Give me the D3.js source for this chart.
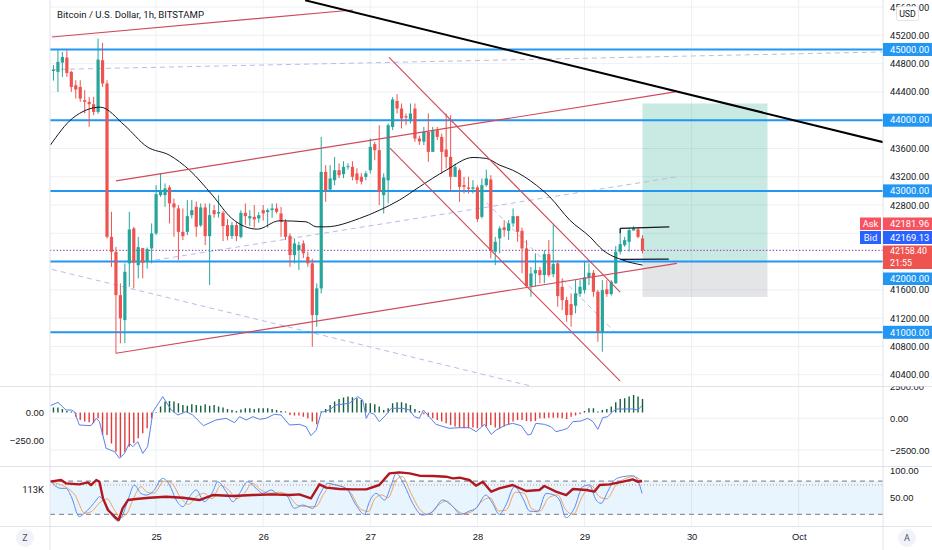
<!DOCTYPE html>
<html>
<head>
<meta charset="utf-8">
<script src="https://cdn.jsdelivr.net/npm/d3@7"></script>
<style>
  body { margin: 0; background: #fff; }
  svg { display: block; font-family: Roboto, "Noto Sans", sans-serif; }
</style>
</head>
<body>
<div id="chart"></div>
<script>
// ---- data ----
// hourly candles, first one is Sep 24 01:00 UTC
const opens = [44700,44683,44815,44886,44683,44495,44470,44283,44259,44226,44117,44848,44519,42350,42138,41526,41173,41975,42469,41950,
  42191,41993,42187,42399,42940,42940,43049,42823,42752,42421,42421,42657,42775,42513,42766,42360,42728,42680,42690,42516,
  42360,42516,42350,42690,42612,42633,42610,42728,42700,42728,42752,42681,42563,42365,42092,42163,42257,42068,41975,41244,
  41621,43269,43020,43151,43293,43237,43340,43340,43247,43200,43199,43293,43661,43576,42940,43150,43905,44273,44165,44056,
  44010,44165,43741,43695,43835,43552,43859,43764,43585,43481,43199,43293,43081,43049,43030,43050,42633,43081,43162,42139,
  42328,42484,42435,42540,42643,42435,42186,41654,41833,41880,41809,42106,41823,41975,41644,41456,41399,41375,41545,41597,
  41777,41842,41573,40994,41607,41541,41692,42139,42233,42280,42440,42455,42328];
const highs = [44780,44990,44965,44990,44700,44565,44565,44424,44330,44330,45155,45093,44565,42704,42209,41692,41975,42704,42492,42350,
  42191,42200,42540,43081,43247,43105,43080,42893,42800,42752,42870,42870,42850,42823,42823,42823,42800,42940,42720,42600,
  42560,42560,42728,42823,42728,42800,42700,42800,42750,42823,42823,42775,42600,42400,42328,42280,42300,42140,42040,41692,
  43764,43364,43364,43481,43387,43420,43390,43420,43320,43250,43280,43741,43693,43929,43247,43953,44325,44367,44236,44095,
  44236,44236,43780,43905,44095,43905,43905,43811,44095,44070,43387,43317,43199,43199,43152,43080,43176,43300,43222,42350,
  42500,42587,42587,42752,42643,42480,42304,41926,42116,41926,42163,42304,42526,42021,41763,41502,41550,41738,41738,41997,
  41975,41880,41600,41738,41738,41738,42219,42470,42350,42470,42500,42484,42375];
const lows = [44560,44400,44612,44612,44400,44306,44259,44095,43905,44070,44090,44470,42328,41926,40702,40844,40848,41644,41621,41763,
  41763,41900,41975,42375,42916,42775,42540,42350,42021,42304,42375,42610,42350,42492,42233,41668,42620,42620,42290,42300,
  42320,42290,42330,42520,42500,42480,42550,42580,42480,42620,42680,42350,42304,41926,41975,41880,42050,41926,40796,41079,
  41550,42845,42990,43081,43180,43180,43300,43150,43100,43090,43150,43247,43434,42799,42681,42823,43860,44095,43883,43929,
  43953,43693,43650,43647,43411,43552,43720,43247,43317,42987,43199,42845,42964,42964,42964,42560,42610,43060,42045,41950,
  42116,42350,42304,42492,42280,41833,41644,41502,41644,41692,41692,41785,41780,41361,41314,41149,41079,41268,41502,41550,
  41668,41502,40866,40725,41502,41520,41692,42100,42209,42139,42440,42330,42116];
const closes = [44710,44825,44895,44668,44470,44434,44306,44259,44226,44117,44858,44519,42350,42138,41526,41197,41856,42455,41983,42205,
  41983,42177,42399,42954,43000,43035,42823,42766,42421,42360,42643,42728,42492,42766,42360,42657,42671,42700,42502,42360,
  42516,42360,42690,42643,42643,42596,42657,42681,42728,42752,42704,42563,42350,42092,42257,42233,42116,41975,41244,41621,
  43269,43011,43176,43293,43222,43340,43350,43199,43152,43130,43247,43623,43576,42987,43190,43929,44293,44165,44024,44038,
  44095,43741,43700,43835,43552,43859,43764,43552,43481,43199,43340,43057,43057,43030,43050,42600,43081,43176,42163,42280,
  42470,42445,42540,42643,42421,42186,41654,41833,41880,41809,42106,41809,41965,41512,41456,41244,41244,41551,41644,41777,
  41842,41573,41008,41597,41541,41714,42139,42247,42304,42445,42470,42350,42158];

// moving average, sampled [candle index, price]
const maPoints = [[-0.7,43647],[4.3,44028],[10.5,44184],[15.9,43929],[21,43623],[26,43505],[30.5,43293],[35.6,42940],[39.9,42615],
  [45.7,42459],[50.6,42577],[56.6,42563],[58.9,42492],[61.1,42492],[68.6,42611],[73.1,42728],[77.5,42869],[82,43057],[88,43293],
  [94,43473],[97,43459],[100,43364],[102.9,43293],[108.2,43081],[111.2,42916],[115.7,42587],[120.2,42351],[123.1,42163],
  [127.6,42021],[132,41951]];

// horizontal levels and the quote
const levels = [45000, 44000, 43000, 42000, 41000];
const askPrice = 42181.96, bidPrice = 42169.13, lastPrice = 42158.40, barCountdown = "21:55";

// drawings: [hours since Sep 24 00:00, price, hours, price]
const redLines = [[0.67,45177,68.1,45559],[15.0,43142,140.3,44400],[15.0,40703,140.7,41975],
  [76.2,44890,128.0,41569],[76.4,43604,128.0,40311]];
const trendBlack = [[57.4,45696,190,43642]];
const rangeMarks = [[128.0,42469,139.0,42492],[128.0,42031,138.9,42035],[128.0,42469,128.0,42400]];
const dashedLines = [[0.67,44717,186.9,44965],[0.67,41890,108.9,40226],[23.8,42021,140.7,43199],[96.6,42926,126.8,41004]];
const longFrom = 133, longTo = 161, longTarget = 44236, longEntry = 42000, longStop = 41500;

// MACD pane: histogram per candle (left scale), blue line [index, value] (right scale)
const macdHist = [45,45,33,15,9,-36,-66,-80,-87,-95,-51,-200,-200,-275,-349,-394,-349,-304,-274,-230,
  -185,-140,-51,5,54,98,104,98,83,68,62,74,68,62,74,62,68,54,45,33,
  24,15,27,39,39,33,39,39,39,33,24,15,9,-21,-27,-27,-36,-51,-80,-104,
  9,33,68,98,122,134,143,137,128,113,83,83,74,54,24,39,83,92,92,83,
  68,33,15,-15,-36,-51,-66,-80,-95,-110,-125,-134,-140,-140,-134,-140,-125,-125,-110,-134,
  -140,-125,-104,-80,-66,-66,-74,-80,-74,-51,-51,-45,-45,-45,-51,-57,-36,-27,-15,15,
  39,39,9,24,33,54,92,122,128,143,158,143,122];
const macdLine = [[-0.7,996],[1.0,1259],[2.8,655],[4.0,655],[4.7,523],[5.8,-529],[8.4,-582],[9.6,3],[10.3,-266],[11.8,-2370],
  [13.7,-2633],[14.8,-3159],[15.9,-2765],[17.0,-1976],[17.8,-2239],[18.9,-1844],[20.0,-2765],[21.1,-2239],[22.3,523],[24.5,1706],
  [26.4,655],[27.9,260],[29.7,523],[31.2,260],[33.6,-582],[36.4,-135],[38.7,-3],[40.6,-345],[41.7,128],[43.2,-135],[44.7,128],
  [46.2,-82],[47.6,-3],[49.5,312],[51.0,260],[52.9,-529],[55.1,-476],[56.6,-661],[57.7,-1371],[58.9,-924],[60.0,470],[61.8,655],
  [63.3,1049],[66.3,1181],[68.2,1706],[69.3,1444],[70.1,-3],[70.8,470],[71.9,312],[73.0,-266],[74.5,260],[75.7,786],[78.3,786],
  [79.8,655],[80.9,128],[82.0,-3],[82.9,655],[84.2,128],[85.7,-476],[88.7,-792],[91.0,-739],[93.2,-739],[94.7,-1055],[96.6,-476],
  [98.1,-1266],[99.2,-924],[101.4,-529],[102.9,-398],[104.8,-582],[106.3,-1318],[107.0,-1266],[108.1,-398],[110.0,-476],[111.5,-661],
  [112.6,-1055],[114.1,-924],[115.2,-792],[116.4,-266],[118.2,-213],[119.7,-3],[120.9,-266],[122.0,-871],[123.1,50],[124.2,128],
  [125.3,523],[126.1,733],[129.8,733],[130.9,655],[131.9,996]];

// Stoch RSI pane: K, D and the heavy red line, [index, value]
const stochK = [[-0.7,81.9],[0.2,72.9],[1.7,66.9],[2.8,66.9],[4.0,51.8],[5.8,15.7],[6.9,21.8],[8.4,33.8],[9.6,45.8],[10.3,51.8],
  [11.8,36.8],[13.3,15.7],[14.4,7.9],[15.5,18.7],[16.7,45.8],[18.1,72.9],[19.6,57.8],[20.8,54.8],[22.3,60.9],[24.5,84.9],[26.0,72.9],
  [27.5,45.8],[29.0,33.8],[30.5,51.8],[32.0,63.9],[33.8,42.8],[35.7,60.9],[36.8,78.9],[38.7,60.9],[40.2,42.8],[41.7,57.8],[43.5,78.9],
  [45.4,66.9],[46.9,57.8],[48.8,63.9],[50.6,54.8],[52.1,54.8],[54.0,30.8],[55.9,36.8],[58.1,30.8],[59.6,54.8],[61.5,75.9],[63.3,72.9],
  [65.6,66.9],[67.8,36.8],[69.7,19.9],[70.8,42.8],[72.3,57.8],[74.2,45.8],[75.7,72.9],[76.8,93.9],[78.6,72.9],[80.5,39.8],[82.7,18.7],
  [85.0,24.8],[87.2,45.8],[89.5,33.8],[91.3,19.9],[93.2,25.9],[94.7,30.8],[96.9,54.8],[98.4,39.8],[99.9,19.9],[101.4,36.8],[103.3,69.9],
  [105.2,48.8],[106.7,25.9],[108.5,24.8],[110.4,57.8],[112.2,54.8],[113.4,45.8],[114.9,13.9],[116.7,30.8],[118.6,69.9],[120.1,72.9],
  [121.6,45.8],[122.7,39.8],[124.2,60.9],[125.7,81.9],[127.6,87.9],[129.8,89.7],[130.9,81.9],[131.9,57.8]];
const stochD = [[-0.7,80],[1.0,75],[3.0,68],[4.8,55],[7.0,22],[8.5,25],[10.5,42],[12.0,48],[13.5,30],[15.0,14],[16.5,22],[18.0,50],
  [19.6,70],[21.0,60],[22.5,58],[24.8,80],[26.5,76],[28.5,50],[30.3,38],[32.0,52],[33.8,58],[35.5,48],[37.5,72],[39.5,62],[41.0,48],
  [42.8,58],[44.5,76],[46.5,64],[48.5,58],[50.5,60],[52.5,55],[54.8,36],[56.8,34],[58.8,34],[60.5,56],[62.5,74],[64.5,70],[66.5,60],
  [68.8,30],[70.6,25],[72.0,48],[73.5,55],[75.0,50],[76.8,82],[78.2,88],[80.0,60],[82.0,30],[84.0,20],[86.0,35],[88.0,44],[90.0,30],
  [92.0,21],[94.0,26],[95.8,42],[97.8,50],[99.8,26],[101.5,28],[103.5,60],[105.5,58],[107.2,30],[109.0,26],[111.0,50],[113.0,55],
  [114.8,28],[116.5,20],[118.5,52],[120.5,72],[122.3,52],[124.0,48],[126.0,72],[128.0,84],[130.0,88],[131.9,80]];
const heavyLine = [[-0.7,78.9],[1.7,81.9],[2.8,75.9],[5.8,74.1],[7.7,77.7],[8.4,72.9],[9.6,81.9],[10.3,78.9],[11.1,48.8],[12.2,27.8],
  [13.7,15.7],[14.6,9.7],[15.5,30.8],[16.7,45.8],[18.5,47.6],[21.5,50.0],[25.2,51.8],[29.0,50.0],[32.7,45.8],[35.7,54.8],[40.2,53.0],
  [44.7,54.8],[49.1,56.0],[52.9,54.8],[55.1,56.0],[57.7,48.8],[59.6,74.1],[61.1,68.1],[64.1,65.7],[67.1,65.1],[70.1,65.1],[73.0,72.9],
  [75.3,93.9],[77.5,95.7],[79.8,93.9],[82.0,89.7],[85.0,89.1],[88.0,87.9],[89.5,84.9],[91.0,86.1],[93.2,81.9],[94.7,71.7],[96.2,78.9],
  [98.1,60.9],[99.9,66.9],[102.9,72.9],[105.9,62.1],[108.9,63.9],[110.0,71.1],[112.6,60.9],[114.9,54.8],[116.4,65.7],[119.4,63.9],
  [121.2,60.9],[122.4,72.9],[124.6,74.1],[127.6,78.9],[129.8,83.1],[130.9,78.9],[131.9,80.1]];
const heavyLabel = "113K";

// axis ticks
const priceTicks = d3.range(40400, 45601, 400);
const macdRightTicks = [2500, 0, -2500];
const macdLeftTicks = [0, -250];
const stochTicks = [100, 50];
const stochBand = [20, 80];
const stochMid = 73;

// ---- layout ----
const W = 932, H = 550;
const L = 50, R = 883;
const mainPane = [0, 386.5], macdPane = [386.5, 466.5], stochPane = [466.5, 526.5];
const T0 = Date.UTC(2021, 8, 24);

const x = d3.scaleUtc()
  .domain([new Date(T0), new Date(Date.UTC(2021, 9, 1))])
  .range([49, 798.7]);
const hx = h => x(new Date(T0 + h * 3600e3));
const ix = i => hx(i + 1);

const y = d3.scaleLinear().domain([40300, 45700]).range([381.8, 0]);
const yHist = d3.scaleLinear().domain([0, -250]).range([412.6, 440.6]);
const yMacd = d3.scaleLinear().domain([2500, -2500]).range([386.6, 450]);
const yStoch = d3.scaleLinear().domain([0, 100]).range([525.4, 470]);

const green = '#26a69a', red = '#ef5350', blue = '#2196f3', grid = '#eef0f4', text = '#131722';

const svg = d3.select('#chart').append('svg').attr('width', W).attr('height', H);
const defs = svg.append('defs');
function clip(id, pane) {
  defs.append('clipPath').attr('id', id).append('rect')
    .attr('x', L).attr('y', pane[0]).attr('width', R - L).attr('height', pane[1] - pane[0]);
  return svg.append('g').attr('clip-path', `url(#${id})`);
}
function clipAxis(id, pane, x0, w) {
  defs.append('clipPath').attr('id', id).append('rect')
    .attr('x', x0).attr('y', pane[0]).attr('width', w).attr('height', pane[1] - pane[0]);
  return svg.append('g').attr('clip-path', `url(#${id})`);
}

const days = d3.utcDay.range(new Date(Date.UTC(2021, 8, 25)), new Date(Date.UTC(2021, 9, 2)));

// ---- main pane ----
const gm = clip('cm', mainPane);
gm.selectAll('.vg').data(days).join('line')
  .attr('x1', d => x(d)).attr('x2', d => x(d)).attr('y1', 0).attr('y2', mainPane[1]).attr('stroke', grid);
gm.selectAll('.hg').data(priceTicks).join('line')
  .attr('x1', L).attr('x2', R).attr('y1', d => y(d)).attr('y2', d => y(d)).attr('stroke', grid);

// long position box
gm.append('rect').attr('x', hx(longFrom)).attr('width', hx(longTo) - hx(longFrom))
  .attr('y', y(longTarget)).attr('height', y(longEntry) - y(longTarget)).attr('fill', 'rgba(8,153,129,0.22)');
gm.append('rect').attr('x', hx(longFrom)).attr('width', hx(longTo) - hx(longFrom))
  .attr('y', y(longEntry)).attr('height', y(longStop) - y(longEntry)).attr('fill', 'rgba(120,123,134,0.2)');

// dashed helper lines
gm.selectAll('.dl').data(dashedLines).join('line')
  .attr('x1', d => hx(d[0])).attr('y1', d => y(d[1])).attr('x2', d => hx(d[2])).attr('y2', d => y(d[3]))
  .attr('stroke', '#b8bce6').attr('stroke-width', 1).attr('stroke-dasharray', '5,4');

// current price dotted line
gm.append('line').attr('x1', L).attr('x2', R).attr('y1', y(lastPrice)).attr('y2', y(lastPrice))
  .attr('stroke', '#9a4fb5').attr('stroke-width', 1.3).attr('stroke-dasharray', '1.3,2');

// levels
gm.selectAll('.lv').data(levels).join('line')
  .attr('x1', L).attr('x2', R).attr('y1', d => y(d)).attr('y2', d => y(d))
  .attr('stroke', blue).attr('stroke-width', 2);

// candles
const idx = d3.range(closes.length);
gm.selectAll('.wk').data(idx).join('line')
  .attr('x1', i => ix(i)).attr('x2', i => ix(i))
  .attr('y1', i => y(Math.max(highs[i], opens[i], closes[i]))).attr('y2', i => y(Math.min(lows[i], opens[i], closes[i])))
  .attr('stroke', i => closes[i] >= opens[i] ? green : red).attr('stroke-width', 1);
gm.selectAll('.bd').data(idx).join('rect')
  .attr('x', i => ix(i) - 1.6).attr('width', 3.2)
  .attr('y', i => y(Math.max(opens[i], closes[i])))
  .attr('height', i => Math.max(1, Math.abs(y(opens[i]) - y(closes[i]))))
  .attr('fill', i => closes[i] >= opens[i] ? green : red);

// moving average
gm.append('path').datum(maPoints)
  .attr('d', d3.line().x(d => ix(d[0])).y(d => y(d[1])).curve(d3.curveMonotoneX))
  .attr('fill', 'none').attr('stroke', text).attr('stroke-width', 1);

// trend lines
gm.selectAll('.rl').data(redLines).join('line')
  .attr('x1', d => hx(d[0])).attr('y1', d => y(d[1])).attr('x2', d => hx(d[2])).attr('y2', d => y(d[3]))
  .attr('stroke', '#cf4b5a').attr('stroke-width', 1.1);
gm.selectAll('.bl').data(trendBlack).join('line')
  .attr('x1', d => hx(d[0])).attr('y1', d => y(d[1])).attr('x2', d => hx(d[2])).attr('y2', d => y(d[3]))
  .attr('stroke', '#000').attr('stroke-width', 2);
gm.selectAll('.rm').data(rangeMarks).join('line')
  .attr('x1', d => hx(d[0])).attr('y1', d => y(d[1])).attr('x2', d => hx(d[2])).attr('y2', d => y(d[3]))
  .attr('stroke', '#131722').attr('stroke-width', 1.2);

// title
svg.append('text').attr('x', 57).attr('y', 17.5).attr('fill', text)
  .attr('font-size', 9.6).text('Bitcoin / U.S. Dollar, 1h, BITSTAMP');

// ---- MACD pane ----
const gd = clip('cd', macdPane);
gd.selectAll('.vg').data(days).join('line')
  .attr('x1', d => x(d)).attr('x2', d => x(d)).attr('y1', macdPane[0]).attr('y2', macdPane[1]).attr('stroke', grid);
gd.selectAll('.hg').data(macdRightTicks).join('line')
  .attr('x1', L).attr('x2', R).attr('y1', d => yMacd(d)).attr('y2', d => yMacd(d)).attr('stroke', grid);
gd.selectAll('.hb').data(idx).join('line')
  .attr('x1', i => ix(i)).attr('x2', i => ix(i))
  .attr('y1', yHist(0)).attr('y2', i => yHist(macdHist[i]))
  .attr('stroke', i => macdHist[i] >= 0 ? '#135e3d' : '#e23b3b').attr('stroke-width', 1.4);
gd.append('path').datum(macdLine)
  .attr('d', d3.line().x(d => ix(d[0])).y(d => yMacd(d[1])))
  .attr('fill', 'none').attr('stroke', '#5b7fe8').attr('stroke-width', 1);

// ---- Stoch pane ----
const gs = clip('cs', stochPane);
gs.selectAll('.vg').data(days).join('line')
  .attr('x1', d => x(d)).attr('x2', d => x(d)).attr('y1', stochPane[0]).attr('y2', stochPane[1]).attr('stroke', grid);
gs.append('rect').attr('x', L).attr('width', R - L)
  .attr('y', yStoch(stochBand[1])).attr('height', yStoch(stochBand[0]) - yStoch(stochBand[1]))
  .attr('fill', 'rgba(33,150,243,0.1)');
gs.selectAll('.bn').data(stochBand).join('line')
  .attr('x1', L).attr('x2', R).attr('y1', d => yStoch(d)).attr('y2', d => yStoch(d))
  .attr('stroke', '#787b86').attr('stroke-dasharray', '5,4');
gs.append('line').attr('x1', L).attr('x2', R).attr('y1', yStoch(stochMid)).attr('y2', yStoch(stochMid))
  .attr('stroke', '#d39a6a').attr('stroke-dasharray', '1,2');
const sline = d3.line().x(d => ix(d[0])).y(d => yStoch(d[1])).curve(d3.curveMonotoneX);
gs.append('path').datum(stochD).attr('d', sline).attr('fill', 'none').attr('stroke', '#f0a35e').attr('stroke-width', 1);
gs.append('path').datum(stochK).attr('d', sline).attr('fill', 'none').attr('stroke', '#5b8def').attr('stroke-width', 1);
gs.append('path').datum(heavyLine)
  .attr('d', d3.line().x(d => ix(d[0])).y(d => yStoch(d[1])))
  .attr('fill', 'none').attr('stroke', '#b0171f').attr('stroke-width', 2.4).attr('stroke-linejoin', 'round');

// ---- frame ----
const frame = '#e0e3eb';
[macdPane[0], stochPane[0], stochPane[1]].forEach(v =>
  svg.append('line').attr('x1', 0).attr('x2', W).attr('y1', v).attr('y2', v).attr('stroke', frame));
svg.append('line').attr('x1', L).attr('x2', L).attr('y1', 0).attr('y2', H).attr('stroke', frame);
svg.append('line').attr('x1', R).attr('x2', R).attr('y1', 0).attr('y2', H).attr('stroke', frame);

// ---- price axis tags, stacked the way the app pushes them apart ----
const fs = 9.4;
const tags = [
  {label: 'Ask', value: askPrice, top: 217.5, h: 12.5, bg: '#f7525f'},
  {label: 'Bid', value: bidPrice, top: 231, h: 13, bg: '#2962ff'}
];
const lastTag = {top: 245.5, h: 23.5};
const lvlTag = {top: 272.5, h: 12.5};
// tick labels that sit under a tag are hidden, as on the chart
const tagSpans = [[tags[0].top, lvlTag.top + lvlTag.h]]
  .concat(levels.filter(d => d !== 42000).map(d => [y(d) - 6.5, y(d) + 6.5]));
const visibleTicks = priceTicks.filter(p => !tagSpans.some(s => y(p) + 4 > s[0] && y(p) - 4 < s[1]));

const pa = clipAxis('ca1', mainPane, R, W - R);
pa.append('g').attr('transform', `translate(${R},0)`)
  .call(d3.axisRight(y).tickValues(visibleTicks).tickFormat(d3.format('.2f')).tickSize(0).tickPadding(7))
  .call(g => g.select('.domain').remove())
  .selectAll('text').attr('fill', text).attr('font-size', fs).attr('font-family', 'Roboto');

pa.selectAll('.lt').data(levels.filter(d => d !== 42000)).join('g')
  .attr('transform', d => `translate(${R},${y(d)})`)
  .call(g => g.append('rect').attr('y', -6.5).attr('width', W - R).attr('height', 13).attr('fill', blue))
  .call(g => g.append('text').attr('x', 7).attr('dy', '0.35em').attr('fill', '#fff').attr('font-size', fs)
    .text(d => d3.format('.2f')(d)));

tags.forEach(t => {
  svg.append('rect').attr('x', 860).attr('y', t.top).attr('width', 21).attr('height', t.h).attr('fill', t.bg);
  svg.append('text').attr('x', 870.5).attr('y', t.top + t.h / 2).attr('dy', '0.35em').attr('text-anchor', 'middle')
    .attr('fill', '#fff').attr('font-size', fs).text(t.label);
  svg.append('rect').attr('x', R).attr('y', t.top).attr('width', W - R).attr('height', t.h).attr('fill', t.bg);
  svg.append('text').attr('x', R + 7).attr('y', t.top + t.h / 2).attr('dy', '0.35em')
    .attr('fill', '#fff').attr('font-size', fs).text(d3.format('.2f')(t.value));
});
svg.append('rect').attr('x', R).attr('y', lastTag.top).attr('width', W - R).attr('height', lastTag.h).attr('fill', red);
svg.append('text').attr('x', R + 7).attr('y', lastTag.top + 5.6).attr('dy', '0.35em').attr('fill', '#fff').attr('font-size', 8.8)
  .text(d3.format('.2f')(lastPrice));
svg.append('text').attr('x', R + 7).attr('y', lastTag.top + 17.2).attr('dy', '0.35em').attr('fill', '#fff').attr('font-size', 8.8)
  .text(barCountdown);
svg.append('rect').attr('x', R).attr('y', lvlTag.top).attr('width', W - R).attr('height', lvlTag.h).attr('fill', blue);
svg.append('text').attr('x', R + 7).attr('y', lvlTag.top + lvlTag.h / 2).attr('dy', '0.35em').attr('fill', '#fff').attr('font-size', fs)
  .text(d3.format('.2f')(levels[3]));

// USD button
svg.append('rect').attr('x', 896.5).attr('y', 6.5).attr('width', 22).attr('height', 14).attr('rx', 2)
  .attr('fill', '#fff').attr('stroke', frame);
svg.append('text').attr('x', 907.5).attr('y', 13.5).attr('dy', '0.35em').attr('text-anchor', 'middle')
  .attr('fill', text).attr('font-size', 8.8).text('USD');

// MACD axes
const ma1 = clipAxis('ca2', macdPane, R, W - R);
ma1.append('g').attr('transform', `translate(${R},0)`)
  .call(d3.axisRight(yMacd).tickValues(macdRightTicks).tickFormat(d3.format('.2f')).tickSize(0).tickPadding(7))
  .call(g => g.select('.domain').remove())
  .selectAll('text').attr('fill', text).attr('font-size', fs);
svg.append('g').attr('transform', `translate(${L},0)`)
  .call(d3.axisLeft(yHist).tickValues(macdLeftTicks).tickFormat(d3.format('.2f')).tickSize(0).tickPadding(6))
  .call(g => g.select('.domain').remove())
  .selectAll('text').attr('fill', text).attr('font-size', fs);

// Stoch axes
const sa = clipAxis('ca3', stochPane, R, W - R);
sa.append('g').attr('transform', `translate(${R},0)`)
  .call(d3.axisRight(yStoch).tickValues(stochTicks).tickFormat(d3.format('.2f')).tickSize(0).tickPadding(7))
  .call(g => g.select('.domain').remove())
  .selectAll('text').attr('fill', text).attr('font-size', fs);
svg.append('text').attr('x', L - 6).attr('y', 490).attr('dy', '0.35em').attr('text-anchor', 'end')
  .attr('fill', text).attr('font-size', fs).text(heavyLabel);

// time axis
svg.append('g').attr('transform', `translate(0,${stochPane[1]})`)
  .call(d3.axisBottom(x).tickValues(days)
    .tickFormat(d => d.getUTCDate() === 1 ? d3.utcFormat('%b')(d) : d3.utcFormat('%-d')(d))
    .tickSize(0).tickPadding(7))
  .call(g => g.select('.domain').remove())
  .selectAll('text').attr('fill', text).attr('font-size', fs);

// corner buttons
[['Z', 25], ['A', 907]].forEach(([t, cx]) => {
  svg.append('circle').attr('cx', cx).attr('cy', 538).attr('r', 9).attr('fill', '#f0f3fa');
  svg.append('text').attr('x', cx).attr('y', 538).attr('dy', '0.35em').attr('text-anchor', 'middle')
    .attr('fill', '#50535e').attr('font-size', 9).text(t);
});
</script>
</body>
</html>
